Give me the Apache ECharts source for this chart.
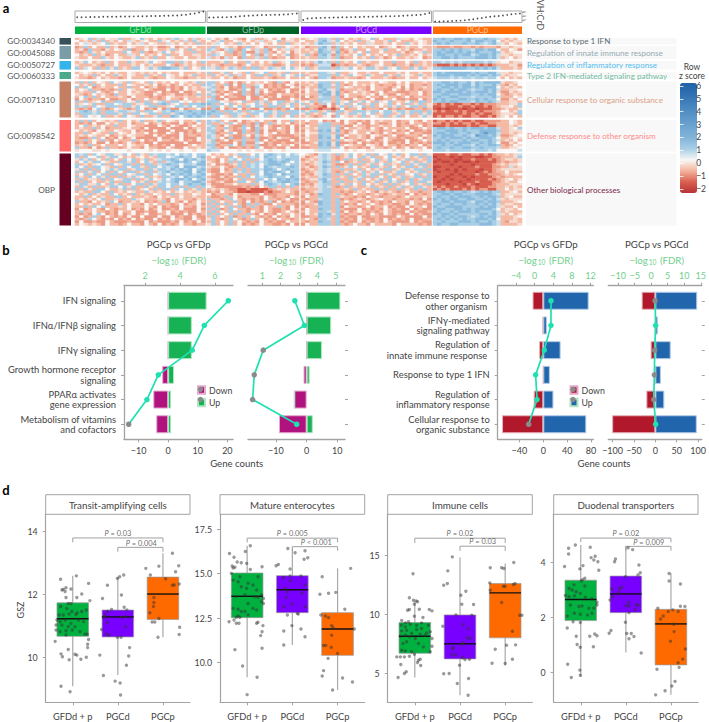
<!DOCTYPE html>
<html><head><meta charset="utf-8"><style>html,body{margin:0;padding:0;background:#fff}#c{width:709px;height:722px}</style>
<script src="https://cdn.jsdelivr.net/npm/echarts@6/dist/echarts.min.js"></script></head><body><div id="c"></div>
<script>
// ---------- panel a data ----------
const goIds=["GO:0034340","GO:0045088","GO:0050727","GO:0060333","GO:0071310","GO:0098542","OBP"];
const goNames=["Response to type 1 IFN","Regulation of innate immune response","Regulation of inflammatory response","Type 2 IFN-mediated signaling pathway","Cellular response to organic substance","Defense response to other organism","Other biological processes"];
const heatGroups=["GFDd","GFDp","PGCd","PGCp"];
const zLevels=[-2,-1.5,-0.85,-0.5,-0.1,0.25,0.75,1.15,1.8,3.2];
const zTicks=[-2,-1,0,1,2,3,4,5,6];
const vhcrdGFDd=[1.66,1.68,1.70,1.72,1.74,1.75,1.77,1.79,1.80,1.82,1.84,1.85,1.87,1.89,1.90,1.92,1.94,1.96,1.98,2.0,2.02,2.05,2.08,2.12,2.2,2.3,2.45,2.6,2.85,3.07];
const vhcrdGFDp=[1.6,1.62,1.65,1.68,1.7,1.75,1.8,1.9,2,2.05,2.1,2.15,2.2,2.22,2.25,2.28,2.3,2.35,2.4,2.5,2.6];
const vhcrdPGCd=[1.0,1.35,1.45,1.5,1.52,1.55,1.58,1.6,1.62,1.65,1.68,1.7,1.72,1.75,1.78,1.8,1.82,1.85,1.88,1.9,1.92,1.95,2,2.05,2.1,2.15,2.2,2.3,2.45,2.7];
const vhcrdPGCp=[.63,.65,.7,.72,.75,.8,.85,.95,1.05,1.2,1.35,1.5,1.65,1.8,1.9,2,2.1,2.25,2.4,2.5,2.6];
const heat1=["345736354473345743534367453634 653425432563345352543 345477637353434573533364435433 778778878777877643435",
"534363734353643453374534363743 534733543534634573443 533478647534373453347353334543 877787778688778534344",
"356434573433534635433643534373 346534374353543533734 343687736343533643343533743543 787877787787678643543"];
const heat2=["237353373423543343422352343533 373543423734523373543 423378627353534335234523433533 322232233232333244344",
"342733243543723353533473537343 763267327536372534634 343487637234733533473353423343 778787877688788533542",
"323743533337533732347534533733 634537237226373253524 334387748324353733533334235473 787887878787778743455",
"534373423533643534353733533443 376533237537263534723 473278627343573534353473343534 788778788678878644344",
"433533743543347343733543353343 634263527336373233523 343377637233534373423533434523 778878777788878634534"];
const heat3=["347534373533743347543773743537 333473533743534734573 343686737343573433533733537343 776767677777676455344",
"433343233533343534333532343433 343233323533433223533 232366612323343234533233423343 211121212121212333442",
"736537374734377547478877473547 647347637377347647574 473477737647534774374573374734 778888887787878633343"];
const heat4=["345434353433543434353433533343 733473543734573343733 343377647334533433533343533433 787888888787788644344",
"534373533743543373437543534733 374347363537737347547 734477737437543743374374543743 788878887878878743445",
"433235343323533343233543323343 433534233533343233533 353277623343323533343233533534 677767677677677535343"];
const heat5=["373735437543734537434353543473 773532423534353273253 343477737353533343543353533343 778878778687888843345",
"534373533373543343523423534337 763372527336523232542 334387747323534353233243523323 787888788687778632435",
"737523433533733523422323253434 673252327327523232253 243387737354333253332352523343 778878788787888534343",
"354733232373543353222523253433 763352237526352323522 353478647233343253322532423233 787787887677878633445",
"343375323533534322352322522353 472323527326253222523 253387848323534323523322233523 887888878788878422434",
"432353432733543322532342232373 763253227327232253332 343378848353334352532253233523 778877888778788532343",
"357373533343253332323543343343 372523322522423252232 252367737253323533253323523333 787788777677778633354",
"253233252233523353323533253333 672252222522352222253 223377737322533252233522322523 878777887787877522435",
"737345733773547373567377545343 777543457337473577347 457376637457347537457343573773 778788777687787633443",
"345473377567734477378745737778 873757343457437573473 734237527473573473547353734734 212121122121222333447",
"767375477737747547733457767577 377537573757737737573 473321524737457373537473577374 112111211211212344537",
"323257323543237523252722523352 272523252322522323252 223212212523352333252323223323 101011101101112234334",
"678747377477647377547687678778 787377473767747473777 747734727743777477577477477737 212112121121222355347",
"377767377747377547737747877878 877737764377577477377 473437547347747573477347473747 111111121212112344437",
"437545733437543733473387578787 737543743734573473573 343234527543437354373473533474 121221211221121345353"];
const heat6=["373735434373534733473543533473 767353252343533253373 353352325253323253433523353253 122121211211222233543",
"323252253433523352342322523253 733637532327237353523 323367733253252253223523253323 221212122121122333543",
"357343533733543322253253223533 673253227326253223252 253377737322533233433523323523 111211112112211333434",
"343373523334533252222522252343 763373237527353253252 343477747253343253253333522353 788787787888788633457",
"534325433543352322522252223253 773253227327252233252 253387848323533343233523252232 777888787778888733444",
"337354337354353352322532523233 672337527337253523253 354477737324533523253233523322 788788778778988633434",
"343543352343543322523222523323 763253223526353222223 253387748253343254323522333253 878887787698878622345",
"322373523252352222252232522253 763527227327223253322 343387848523343252253323223523 778788878778887533454",
"337353732533373523253323523253 472352337337252322252 253377737354323532353222522353 787877787887787634353",
"232352252323532322522222252223 673222527226523223223 223487848223252323252232523232 888787888778787522435",
"343733533353543352323252223533 772337527337223253352 343387848354332543253323233523 778778877687788732354",
"733252373323533253322532253343 673252232327522322522 223377737523323253323523523352 787787788778777633445",
"455544545555455554545455455455 766555545454454554555 555466655545455445555454555455 777677777677767555556"];
const heat7=["767375477447537437677675767577 534353477357578767576 543267637347534737547473577374 111211211221212334346",
"737557347753434534377567877578 353337537767587757677 423467632347537473357343534737 011101011100112233347",
"474735373537573473467787587867 332536757373578767877 234367632373473357347534733437 101110011211121234434",
"357477543377473574373678787578 432537373737678878757 343468737523437347437457347347 010010100101111232334",
"734345737547737377367877577688 352323473767578887577 323467632237373473573437374773 111101111011112343445",
"757377543737577437757678588867 433532373767587677787 342368737347534377437534773473 001111011121112233634",
"473737547477347737477687878578 322523737377688757877 234367633733473534377347347737 011010101110112344444",
"737473573753773477367867788587 322533767377587887587 323467632347347347533477534773 101110111101212335333",
"357375737737547737567587878678 532232533737588758777 232468737373537477374373457347 111101011121122234345",
"743757473373474573437767587787 322423373757678777587 343367733437347373537347347737 011011101011112323333",
"373443737547737347547578878578 432232537337757587878 234478637337473534737537373477 110101110111121234534",
"737353347337753473367678577887 323422377537587678877 323368733733437347347473473774 101111011121112234335",
"477447537473357737477577578778 422233533373578767578 232467737437537534373734573437 111011102101112333444",
"374373347757473374377573737737 532222223232537737373 343467632373433473437347347743 212112111211122334343",
"737437753347373453737737573473 343432211211112343433 233367733343734337373373437373 121211121212211335344",
"343377537343543374343534534343 232533211011121223532 323467733232343532434323533233 788787787678787733453",
"534734337534373433543373433543 523332533322522233332 342387737323533234323433252323 778878877788887634444",
"337353433773533343253433533433 322373523333253233253 253377733433232533233323533343 787787888778788734533",
"343435733433374533343253433243 733237532323253323522 323367737232343234533233323252 878788778877878643444",
"733253437523343523237253252353 373533732523237252323 253287737353323523232533253323 778878887688788733345",
"353433523373533253533323523352 737373532737322533332 233487737323253353233223253232 787787787787878634433",
"337375733343533353252322533253 373537372373253373252 323377737253323523352322523352 877888877778788643353",
"252353253233523252352232522252 737237533233253223253 253387737322252323253232252322 788778878788887534435",
"373353323253352232253523232253 373537373253253223532 353377637252353232353222523223 787787888787778634333",
"323257523252352352233522252323 737353733732523253353 253487847323323253253232252322 878878777778878643534",
"252373253232522522252252322522 373537237353232523253 223387737232252233222253222252 778787887678788633345",
"323753232523252322523253322532 473237532373523253323 353277637323253223252323252233 787878787788878533343",
"252232253222322252322232523252 373537353232532322533 323387737232252323253222252322 778777888787787632443",
"354343253323533253252323533233 473537352323533223252 253377737323533253333253333232 787788777778887633334"];
// ---------- panel b data ----------
const bCats=["IFN signaling","IFNα/IFNβ signaling","IFNγ signaling","Growth hormone receptor\nsignaling","PPARα activates\ngene expression","Metabolism of vitamins\nand cofactors"];
const b1Down=[0,0,0,-2,-5,-4], b1Up=[13,8,8,2,1,1], b1Fdr=[6.76,5.39,4.70,2.76,2.11,1.07], b1Sig=[1,1,1,1,1,0];
const b2Down=[0,0,0,-1,-4,-9], b2Up=[11,8,5,1,0,2], b2Fdr=[2.77,3.29,1.05,.56,.47,2.87], b2Sig=[1,1,0,0,0,1];
// ---------- panel c data ----------
const cCats=["Defense response to\nother organism ","IFNγ-mediated\nsignaling pathway","Regulation of\ninnate immune response ","Response to type 1 IFN","Regulation of\ninflammatory response","Cellular response to\norganic substance"];
const c1Down=[-18,-1,-7,0,-16,-69], c1Up=[76,6,29,11,17,72], c1Fdr=[3.5,3.5,2.06,.2,.5,-1.3], c1Sig=[1,1,1,1,1,0];
const c2Down=[-32,0,-11,0,-21,-101], c2Up=[98,6,36,13,21,97], c2Fdr=[1.17,1.35,1.05,.96,.76,1.35], c2Sig=[0,1,0,0,0,1];
// ---------- panel d data ----------
const dCats=["GFDd + p","PGCd","PGCp"];
const dTitles=["Transit-amplifying cells","Mature enterocytes","Immune cells","Duodenal transporters"];
// [position, q1, median, q3, whisker low, whisker high]
const boxTA=[[1,10.66,11.22,11.73,9.07,12.59],[2,10.64,11.28,11.5,9.43,12.56],[3,11.2,12.01,12.55,10.63,13.31]];
const boxME=[[1,12.53,13.73,15.04,9.18,16.57],[2,12.81,14.1,14.89,10.99,16.42],[3,10.41,11.89,12.81,8.46,15.3]];
const boxIC=[[1,6.71,8.16,9.32,4.65,11.1],[2,6.23,7.51,9.97,3.14,14.84],[3,8.02,11.84,12.63,5.69,14.33]];
const boxDT=[[1,1.88,2.65,3.35,-.16,4.63],[2,2.17,2.85,3.5,.72,4.57],[3,.27,1.76,2.29,-.82,3.6]];
const ptsTA=[[.73,12.48],[1.08,12.59],[1.35,12.35],[.76,12.14],[.79,12.16],[.85,12.21],[.96,12.17],[.83,12.09],[.85,11.9],[1.09,11.9],[1.2,12.01],[1.38,11.8],[.9,11.71],[.96,11.71],[.73,11.61],[.87,11.55],[.98,11.45],[1.1,11.41],[1.2,11.45],[1.3,11.5],[.7,11.34],[.79,11.34],[.92,11.37],[1.07,11.36],[.65,11.18],[.72,11.13],[.83,11.18],[.96,11.07],[1.13,11.18],[1.24,11.13],[.63,11.02],[.76,11.02],[.9,10.97],[1.05,10.97],[.63,10.86],[.72,10.81],[.85,10.84],[.99,10.86],[1.16,10.81],[1.27,10.73],[1.32,10.73],[.85,10.7],[1.35,10.56],[1.33,10.41],[1.33,10.3],[.61,10.5],[.74,10.1],[.77,10.01],[.9,10.24],[1.05,10.09],[1.09,10.06],[1.18,9.93],[1.3,9.99],[.92,9.91],[.74,9.07],[.94,8.89],
[2.13,12.62],[2.04,12.56],[1.99,12.51],[1.77,12.29],[1.66,11.87],[2.08,11.98],[2.14,11.59],[2.2,11.5],[1.86,11.52],[1.77,11.45],[1.72,11.34],[1.68,11.27],[2.08,11.27],[2.17,11.29],[1.77,11.1],[1.64,10.88],[2.17,10.97],[1.75,10.73],[1.8,10.7],[1.99,10.63],[2.07,10.63],[2.26,10.3],[2.24,10.03],[2.19,9.74],[1.6,10.06],[1.68,9.41],[1.94,9.23],[2.05,9.17],[2.06,8.79],
[3.21,13.31],[3.35,12.91],[2.91,12.9],[2.62,12.83],[2.72,12.62],[3.28,12.72],[3.06,12.5],[3.36,12.33],[3.21,12.29],[3.25,12.3],[2.8,11.9],[2.8,11.74],[2.79,11.61],[2.71,11.41],[2.91,11.23],[2.76,11.12],[2.82,11.12],[3.37,10.95],[3.36,10.72],[2.89,10.63]];
const ptsME=[[1.07,16.57],[.61,16.14],[.71,15.92],[.96,16.25],[.67,15.43],[.78,15.66],[.87,15.62],[.99,15.58],[.69,15.32],[.73,15.36],[1.07,15.24],[1.33,15.39],[.65,15.02],[1.02,14.46],[.84,14.83],[.8,14.55],[1.24,14.83],[.69,14.64],[.87,14.27],[.99,14.18],[1.13,14.36],[1.21,14.08],[.95,13.8],[1.32,13.8],[1.24,13.67],[1.17,13.71],[1.36,13.61],[.76,13.71],[.8,13],[.87,12.87],[.69,13.05],[1.02,13.33],[1.21,12.96],[1.32,13.43],[1.13,13.05],[1.36,13.33],[.95,12.87],[1.02,12.68],[.8,12.62],[.76,12.55],[.84,12.55],[.6,12.3],[.71,12.4],[.76,12.21],[.82,12.21],[1.21,12.21],[1.24,12.27],[1.35,12.08],[1.33,11.74],[1.3,11.52],[1.33,10.81],[.73,10.73],[.9,9.81],[1.22,9.18],[1,8.2],
[1.9,16.42],[2.06,16.18],[2.28,16.29],[2.34,15.9],[2.26,15.81],[1.69,15.52],[1.64,15.45],[1.95,15.26],[1.8,14.79],[1.95,14.87],[2.19,14.87],[1.96,14.61],[2.28,14.36],[1.84,14.18],[1.89,13.99],[2.21,13.9],[1.86,13.67],[1.99,13.3],[1.81,13.15],[2.28,13.15],[2.13,12.73],[2.11,12.77],[1.89,12.68],[1.99,12.08],[2.19,11.89],[1.81,11.78],[2.28,11.46],[1.81,10.99],
[3.29,15.3],[2.66,14.83],[2.96,13.95],[2.8,13.9],[2.61,13.84],[3.16,13],[2.63,12.68],[2.73,12.62],[2.8,12.53],[2.87,12.08],[2.9,11.97],[3.37,11.89],[2.87,11.54],[2.69,10.96],[2.74,10.97],[2.86,10.86],[3,10.52],[2.79,10.24],[2.69,9.55],[2.66,9.25],[3.11,9.14],[3.33,8.91],[2.89,8.46]];
const ptsIC=[[.96,13.46],[.88,11.42],[.97,11.22],[1.03,11.16],[1.06,11.08],[.99,10.88],[.84,10.37],[.88,10.42],[1.1,10.45],[1.32,10.42],[1.38,10.31],[.99,9.86],[1.18,9.75],[.71,9.49],[.79,9.29],[.86,9.38],[.7,9.09],[.79,8.95],[.9,9.18],[1.04,9.09],[1.15,9.29],[1.3,9.09],[.71,8.61],[.82,8.67],[.93,8.39],[1.04,8.73],[1.15,8.81],[1.26,8.44],[1.34,8.53],[.68,8.16],[.79,8.24],[.88,8.1],[1.12,8.33],[1.23,8.24],[.82,7.68],[1.01,7.96],[1.38,7.96],[1.38,7.31],[.74,7.54],[1.08,7.54],[1.19,7.25],[.71,6.97],[.79,6.91],[.93,6.83],[1.34,6.83],[.6,6.4],[.68,6.4],[.77,6.4],[.88,6.46],[.99,6.63],[1.08,6.12],[1.12,6.2],[1.06,5.92],[.69,5.75],[1.13,5.67],[.81,5.13],[.77,4.99],[.63,4.65],
[1.83,14.9],[1.73,13.71],[1.64,12.49],[1.72,12.63],[2.13,11.98],[2.02,11.64],[2.04,10.88],[2.3,10.85],[1.91,9.97],[2.26,9.94],[1.62,9.01],[2.07,9.15],[2.18,8.81],[2.16,8.02],[2.22,7.96],[2.07,7.59],[2.04,7.48],[1.85,7.17],[1.84,7.11],[1.82,6.6],[1.91,6.57],[2.05,6.32],[2.11,6.18],[2.21,6.2],[1.99,5.69],[1.64,4.96],[1.76,4.99],[1.94,4.14],[2.19,4.56],[2.18,3.14],
[3.19,14.42],[2.67,13.97],[2.92,13.97],[2.97,13.91],[3.18,12.55],[3.22,12.63],[2.66,12.69],[2.96,12.41],[3,12.41],[2.67,12.07],[2.92,11.02],[3.32,9.94],[3.37,9.94],[3.16,8.58],[3.23,7.42],[3.03,7.39],[2.78,7.05],[3.16,6.2],[2.71,5.86],[3,5.84]];
const ptsDT=[[.88,4.63],[.73,4.51],[.73,4.3],[1.21,4.55],[1.23,4.17],[1.32,4.22],[1.29,4.08],[1.38,4.02],[.64,3.85],[1.05,3.88],[.98,3.76],[1.4,3.71],[1.09,3.42],[1.04,3.37],[1.01,3.32],[1.09,3.14],[.85,3.18],[.74,3.05],[.81,2.99],[.9,2.93],[.99,2.87],[.66,2.79],[.74,2.75],[.86,2.78],[1.1,2.72],[1.25,2.67],[1.36,2.55],[.77,2.45],[.96,2.39],[1.03,2.41],[1.18,2.33],[1.29,2.33],[1.36,2.45],[.7,2.05],[.86,2.15],[.99,2.11],[1.15,2.08],[1.25,2.15],[.83,1.84],[.99,1.81],[.7,1.61],[.9,1.31],[1.2,1.31],[1.31,1.39],[1.36,1.33],[.92,1.01],[.99,.91],[1.28,.93],[.71,.29],[.98,.08],[.99,-.11],[.79,-.19],
[2.05,4.53],[2.15,4.46],[1.77,4.12],[1.75,4.02],[2.29,3.9],[2.32,3.62],[2.27,3.54],[1.99,3.48],[1.91,3.09],[1.86,3.05],[1.69,3.03],[1.84,2.9],[1.65,2.63],[1.7,2.75],[2.23,2.45],[2.06,2.55],[2,2.42],[2.07,2.41],[2.27,2.45],[2.21,2.27],[2.07,2.17],[1.99,1.82],[1.67,1.52],[1.63,1.42],[2.02,1.41],[2.12,1.41],[2.18,1.3],[2.07,1.22],[2.34,.7],
[2.96,3.59],[2.96,3.32],[3.21,3.21],[3.21,2.4],[3.31,2.39],[2.71,2.33],[2.94,2.21],[3.04,2.27],[3.16,2.21],[2.83,2.05],[2.77,1.94],[3.06,1.75],[3.07,1.48],[2.99,1.13],[3.32,.85],[3.26,.48],[3.16,.35],[3.18,.18],[2.69,.11],[3.09,-.33],[3.02,-.5],[2.87,-.67],[2.66,-.82]];
const brTA=[{from:1,to:3,top:13.8,foot:13.66,text:"= 0.03",at:2},{from:2,to:3,top:13.5,foot:13.36,text:"= 0.004",at:2.52}];
const brME=[{from:1,to:3,top:17.0,foot:16.76,text:"= 0.005",at:2},{from:2,to:3,top:16.52,foot:16.29,text:"< 0.001",at:2.53}];
const brIC=[{from:1,to:3,top:16.49,foot:16.09,text:"= 0.02",at:2},{from:2,to:3,top:15.81,foot:15.41,text:"= 0.03",at:2.5}];
const brDT=[{from:1,to:3,top:4.88,foot:4.73,text:"= 0.02",at:2},{from:2,to:3,top:4.58,foot:4.42,text:"= 0.009",at:2.51}];

// ---------- layout and styles ----------
const F='Lato', TXT='#444', AX='#a3a3a3', GREEN='#6fd08c';
const grid=[],xAxis=[],yAxis=[],series=[],graphic=[],heatIdx=[];
const off={show:false};
function text(t,x,y,o={}){graphic.push({type:'text',x,y,rotation:o.rot||0,silent:true,z:60,style:Object.assign({text:t,fill:o.fill||TXT,fontFamily:F,fontSize:o.size||9,fontWeight:o.weight||'normal',textAlign:o.align||'center',textVerticalAlign:'middle'},o.rich?{rich:o.rich}:{})});}
function rect(x,y,w,h,fill,stroke){graphic.push({type:'rect',silent:true,z:1,shape:{x,y,width:w,height:h},style:{fill,stroke:stroke||null,lineWidth:stroke?1:0}});}
function addGrid(l,t,w,h,extra){grid.push(Object.assign({left:l,top:t,width:w,height:h,containLabel:false,show:false},extra||{}));return grid.length-1;}
const num=v=>v<0?'\u2212'+(-v):String(v);

// ----- panel a -----
const hgCols=[{l:75,r:205.5,n:30,c:'#00b140',s:vhcrdGFDd},{l:207,r:299,n:21,c:'#006428',s:vhcrdGFDp},{l:301,r:431.5,n:30,c:'#7800ff',s:vhcrdPGCd},{l:433,r:522,n:21,c:'#ff6a00',s:vhcrdPGCp}];
const hgRows=[{t:38,b:44.6,c:'#37505a',tc:'#5b6b72',d:heat1},{t:46,b:59,c:'#7a9ca6',tc:'#93aab2',d:heat2},{t:61,b:69.6,c:'#33b5ec',tc:'#52bdf0',d:heat3},{t:72,b:79,c:'#4aa98a',tc:'#71bda2',d:heat4},{t:81.5,b:117.5,c:'#c47f63',tc:'#dc9f86',d:heat5},{t:120,b:151.5,c:'#ff6464',tc:'#ff8a8a',d:heat6},{t:153.5,b:225.5,c:'#660020',tc:'#7d2a48',d:heat7}];
hgCols.forEach((g,gi)=>{
  rect(g.l,26.5,g.r-g.l,7.5,g.c);
  text(heatGroups[gi],(g.l+g.r)/2,30.4,{fill:'rgba(255,255,255,0.6)',size:8.5});
  const gidx=addGrid(g.l,11,g.r-g.l,11.5,{show:true,backgroundColor:'#fff',borderColor:'#aaa',borderWidth:1});
  xAxis.push({gridIndex:gidx,type:'category',data:g.s.map((_,i)=>i),show:false});
  yAxis.push({gridIndex:gidx,type:'value',min:.39,max:3.2,position:'right',show:gi===3,axisLine:{show:false},splitLine:off,
    axisTick:{show:true,length:3,lineStyle:{color:'#888',width:.6},customValues:[1,2,3]},
    axisLabel:{show:true,customValues:[1,2,3],fontSize:3.5,rotate:90,color:'#666',margin:1,fontFamily:F}});
  series.push({type:'scatter',name:'VH:CrD '+heatGroups[gi],xAxisIndex:gidx,yAxisIndex:gidx,data:g.s,symbolSize:1.7,itemStyle:{color:'#222'},silent:true});
});
hgRows.forEach((b,bi)=>{
  rect(59.5,b.t,11.5,b.b-b.t,b.c);
  text(goIds[bi],55,(b.t+b.b)/2,{align:'right',size:8.2,fill:'#555'});
  rect(526,b.t,150.5,b.b-b.t,'#f8f8f8');
  text(goNames[bi],527,(b.t+b.b)/2,{align:'left',size:8.1,fill:b.tc});
  const rows=b.d.map(r=>r.split(' '));
  hgCols.forEach((g,gi)=>{
    const gidx=addGrid(g.l,b.t,g.r-g.l,b.b-b.t);
    xAxis.push({gridIndex:gidx,type:'category',data:Array.from({length:g.n},(_,i)=>i),show:false});
    yAxis.push({gridIndex:gidx,type:'category',inverse:true,data:rows.map((_,i)=>i),show:false});
    const data=[];
    rows.forEach((r,ri)=>{const s=r[gi];for(let c=0;c<g.n;c++){const ch=c<s.length?s[c]:s[s.length-1];data.push([c,ri,zLevels[+ch]]);}});
    heatIdx.push(series.length);
    series.push({type:'heatmap',name:goIds[bi]+' '+heatGroups[gi],xAxisIndex:gidx,yAxisIndex:gidx,data,silent:true,progressive:0,emphasis:{disabled:true}});
  });
});
// colour bar axes
{const gidx=addGrid(680,83,17,110);
 xAxis.push({gridIndex:gidx,type:'value',show:false,min:0,max:1});
 yAxis.push({gridIndex:gidx,type:'value',min:-2.31,max:6.23,position:'right',axisLine:{show:false},splitLine:off,z:20,
   axisTick:{show:true,inside:true,length:3.5,lineStyle:{color:'#fff',width:.8},customValues:zTicks},
   axisLabel:{customValues:zTicks,formatter:num,fontSize:8.5,color:TXT,margin:4,fontFamily:F}});
 const g2=addGrid(680,83,17,110);
 xAxis.push({gridIndex:g2,type:'value',show:false,min:0,max:1});
 yAxis.push({gridIndex:g2,type:'value',min:-2.31,max:6.23,position:'left',axisLine:{show:false},splitLine:off,z:20,
   axisTick:{show:true,inside:true,length:3.5,lineStyle:{color:'#fff',width:.8},customValues:zTicks},axisLabel:{show:false}});
}
text('Row',692,66.8,{size:8.5});text('z score',692,75.8,{size:8.5});
text('VH:CrD',540,15,{size:8.8,rot:-Math.PI/2,fill:'#555'});

// ----- panels b, c -----
function barPanel(p){
  const inT=288.4,inH=148.2,f=2.7;
  if(p.left){
    const fg=addGrid(p.l,285.7,p.r-p.l,153.6);
    xAxis.push({gridIndex:fg,type:'value',show:false,min:0,max:1});
    yAxis.push({gridIndex:fg,type:'value',min:0,max:1,axisLine:{show:true,lineStyle:{color:AX,width:1.3}},axisTick:off,axisLabel:off,splitLine:off});
  }
  const g=addGrid(p.l,inT,p.r-p.l,inH);
  const xi=xAxis.length;
  xAxis.push({gridIndex:g,type:'value',position:'bottom',offset:f,min:p.xmin,max:p.xmax,splitLine:off,axisLine:{show:true,onZero:false,lineStyle:{color:AX,width:1.3}},
    axisTick:{show:true,length:3,lineStyle:{color:AX},customValues:p.xt},axisLabel:{customValues:p.xt,formatter:num,fontSize:9,color:TXT,margin:7,fontFamily:F}});
  xAxis.push({gridIndex:g,type:'value',position:'top',offset:f,min:p.fmin,max:p.fmax,splitLine:off,axisLine:{show:true,onZero:false,lineStyle:{color:AX,width:1.3}},
    axisTick:{show:true,length:3,lineStyle:{color:AX},customValues:p.ft},axisLabel:{customValues:p.ft,formatter:num,fontSize:9,color:GREEN,margin:6,fontFamily:F}});
  const yi=yAxis.length;
  yAxis.push({gridIndex:g,type:'category',inverse:true,data:p.cats,position:p.left?'left':'right',splitLine:off,axisLine:{show:false,onZero:false},
    axisTick:{show:true,alignWithLabel:true,length:3,lineStyle:{color:AX}},
    axisLabel:{show:p.left,fontSize:9.4,color:TXT,margin:8,lineHeight:10.5,fontFamily:F,align:'right'}});
  series.push({type:'bar',name:'Down',stack:p.id,xAxisIndex:xi,yAxisIndex:yi,data:p.down,barWidth:18,itemStyle:{color:p.cd,borderColor:p.bdd,borderWidth:1},silent:true});
  series.push({type:'bar',name:'Up',stack:p.id,xAxisIndex:xi,yAxisIndex:yi,data:p.up,barWidth:18,itemStyle:{color:p.cu,borderColor:p.bdu,borderWidth:1},silent:true});
  series.push({type:'line',name:'FDR '+p.id,xAxisIndex:xi+1,yAxisIndex:yi,z:5,silent:true,symbol:'circle',symbolSize:5.5,lineStyle:{color:'#1fe0b0',width:1.7},
    data:p.fdr.map((v,i)=>({value:[v,p.cats[i]],itemStyle:{color:p.sig[i]?'#1fe0b0':'#8a8a8a'}}))});
  text('PGCp vs '+p.vs,p.tx,244,{size:9.7});
  text('{a|\u2212log}{s|10}{a| (FDR)}',p.tx,260,{fill:GREEN,rich:{a:{fontSize:9.7,fontFamily:F,fill:GREEN},s:{fontSize:6.6,fontFamily:F,fill:GREEN,padding:[4,1,0,1]}}});
}
const bxt=[-10,0,10,20];
barPanel({id:'b1',left:true,l:124,r:233,xmin:-14.9,xmax:21.9,fmin:.8,fmax:7.03,xt:bxt,ft:[2,4,6],cats:bCats,down:b1Down,up:b1Up,fdr:b1Fdr,sig:b1Sig,cd:'#b0127e',cu:'#16b254',bdd:'#e3a9cf',bdu:'#b2e5c4',vs:'GFDp',tx:178.7});
barPanel({id:'b2',left:false,l:248,r:345,xmin:-19.1,xmax:12.5,fmin:.22,fmax:5.5,xt:[-10,0,10],ft:[1,2,3,4,5],cats:bCats,down:b2Down,up:b2Up,fdr:b2Fdr,sig:b2Sig,cd:'#b0127e',cu:'#16b254',bdd:'#e3a9cf',bdu:'#b2e5c4',vs:'PGCd',tx:296.3});
barPanel({id:'c1',left:true,l:497.7,r:593.3,xmin:-76.3,xmax:83.7,fmin:-7.96,fmax:12.6,xt:[-40,0,40,80],ft:[-4,0,4,8,12],cats:cCats,down:c1Down,up:c1Up,fdr:c1Fdr,sig:c1Sig,cd:'#b2182b',cu:'#2166ac',bdd:'#e5b0b8',bdu:'#b3cbe5',vs:'GFDp',tx:545.7});
barPanel({id:'c2',left:false,l:608.3,r:705,xmin:-110,xmax:108.6,fmin:-12.98,fmax:15.3,xt:[-100,-50,0,50,100],ft:[-10,-5,0,5,10,15],cats:cCats,down:c2Down,up:c2Up,fdr:c2Fdr,sig:c2Sig,cd:'#b2182b',cu:'#2166ac',bdd:'#e5b0b8',bdu:'#b3cbe5',vs:'PGCd',tx:656.7});
text('Gene counts',236.7,463,{size:9.6});text('Gene counts',604,463,{size:9.6});
function mkLegend(x,cd,cu){
  [389.3,399.6].forEach(y=>graphic.push({type:'circle',silent:true,z:70,shape:{cx:x+3.5,cy:y,r:2.7},style:{fill:'#8a8a8a'}}));
  return {left:x,top:385.3,orient:'vertical',itemWidth:7,itemHeight:7.5,itemGap:3,padding:0,selectedMode:false,icon:'rect',
    textStyle:{fontSize:8.8,color:TXT,fontFamily:F,padding:[0,0,0,-1]},
    data:[{name:'Down',icon:'rect',itemStyle:{color:cd}},{name:'Up',icon:'rect',itemStyle:{color:cu}}]};
}
const legends=[mkLegend(197,'#b0127e','#16b254'),mkLegend(569.5,'#b2182b','#2166ac')];

// ----- panel d -----
const boxColors=['#00b140','#7800ff','#ff6a00'];
function boxPanel(p){
  graphic.push({type:'rect',silent:true,z:1,shape:{x:p.l,y:494.7,width:p.r-p.l,height:19.6},style:{fill:'#fff',stroke:AX,lineWidth:1}});
  text(p.title,(p.l+p.r)/2,504.7,{size:9.8});
  const g=addGrid(p.l,514.3,p.r-p.l,188);
  const xi=xAxis.length,yi=yAxis.length;
  xAxis.push({gridIndex:g,type:'value',min:.4,max:3.6,splitLine:off,axisLine:{show:true,onZero:false,lineStyle:{color:AX,width:1.2}},
    axisTick:{show:true,length:3,lineStyle:{color:AX},customValues:[1,2,3]},axisLabel:{customValues:[1,2,3],formatter:v=>dCats[v-1],fontSize:9.3,color:TXT,margin:9.5,fontFamily:F}});
  yAxis.push({gridIndex:g,type:'value',min:p.ymin,max:p.ymax,splitLine:off,axisLine:{show:true,onZero:false,lineStyle:{color:AX,width:1.2}},
    axisTick:{show:true,length:3,lineStyle:{color:AX},customValues:p.yt},axisLabel:{customValues:p.yt,formatter:p.fmt||num,fontSize:8.8,color:TXT,margin:8,fontFamily:F}});
  series.push({type:'custom',name:'box '+p.title,xAxisIndex:xi,yAxisIndex:yi,silent:true,z:2,clip:false,data:p.box,encode:{x:0,y:[1,2,3,4,5]},
    renderItem(params,api){
      const x=api.value(0),hw=.35,c=boxColors[x-1];
      const [x0,q1]=api.coord([x-hw,api.value(1)]),[x1,q3]=api.coord([x+hw,api.value(3)]);
      const [xc,lo]=api.coord([x,api.value(4)]),[,hi]=api.coord([x,api.value(5)]),[,med]=api.coord([x,api.value(2)]);
      return {type:'group',children:[
        {type:'line',shape:{x1:xc,y1:lo,x2:xc,y2:hi},style:{stroke:'#a8a8a8',lineWidth:1.2}},
        {type:'rect',shape:{x:x0,y:q3,width:x1-x0,height:q1-q3},style:{fill:c,stroke:'#9a9a9a',lineWidth:.7}},
        {type:'line',shape:{x1:x0,y1:med,x2:x1,y2:med},style:{stroke:'#111',lineWidth:1.4}}]};
    }});
  series.push({type:'scatter',name:'samples '+p.title,xAxisIndex:xi,yAxisIndex:yi,silent:true,z:4,data:p.pts,symbolSize:3.4,itemStyle:{color:'rgba(50,50,50,0.62)'}});
  p.br.forEach((b,i)=>{
    series.push({type:'line',name:'bracket '+p.title+i,xAxisIndex:xi,yAxisIndex:yi,silent:true,z:3,symbol:'none',lineStyle:{color:'#a0a0a0',width:1},
      data:[[b.from,b.foot],[b.from,b.top],[b.to,b.top],[b.to,b.foot]]});
    series.push({type:'scatter',name:'p '+p.title+i,xAxisIndex:xi,yAxisIndex:yi,silent:true,z:6,symbolSize:1,itemStyle:{color:'rgba(0,0,0,0)'},data:[[b.at,b.top]],
      label:{show:true,position:'top',distance:0,formatter:'{i|P} '+b.text,fontSize:7.4,lineHeight:7.6,color:TXT,fontFamily:F,rich:{i:{fontStyle:'italic',fontSize:7.4,lineHeight:7.6,color:TXT,fontFamily:F}}}});
  });
}
boxPanel({title:dTitles[0],l:45.7,r:190,ymin:8.555,ymax:14.555,yt:[10,12,14],box:boxTA,pts:ptsTA,br:brTA});
boxPanel({title:dTitles[1],l:220,r:364.7,ymin:7.77,ymax:18.34,yt:[10,12.5,15,17.5],fmt:v=>v.toFixed(1),box:boxME,pts:ptsME,br:brME});
boxPanel({title:dTitles[2],l:387.7,r:532.3,ymin:2.54,ymax:18.52,yt:[5,10,15],box:boxIC,pts:ptsIC,br:brIC});
boxPanel({title:dTitles[3],l:553.7,r:698,ymin:-1.09,ymax:5.745,yt:[0,2,4],box:boxDT,pts:ptsDT,br:brDT});
text('GSZ',20,610,{size:9,rot:Math.PI/2});
// panel letters
text('a',6,8,{size:13,weight:'bold',fill:'#000'});text('b',6,249.5,{size:13,weight:'bold',fill:'#000'});
text('c',364,250,{size:13,weight:'bold',fill:'#000'});text('d',6,490,{size:13,weight:'bold',fill:'#000'});

const chart=echarts.init(document.getElementById('c'),null,{renderer:'svg',width:709,height:722});
chart.setOption({animation:false,backgroundColor:'#fff',textStyle:{fontFamily:F},grid,xAxis,yAxis,series,legend:legends,graphic:{elements:graphic},
  visualMap:{type:'continuous',min:-2.31,max:6.23,dimension:2,seriesIndex:heatIdx,left:680,top:83,itemWidth:17,itemHeight:110,padding:0,text:null,showLabel:false,calculable:false,hoverLink:false,realtime:false,
    inRange:{color:['#b83236','#d9604f','#f3b29b','#f8f7f5','#a9cfe6','#83b5da','#6ea5d1','#5a95c8','#4483bd','#2f70b2','#2062a8']}}});
</script></body></html>
